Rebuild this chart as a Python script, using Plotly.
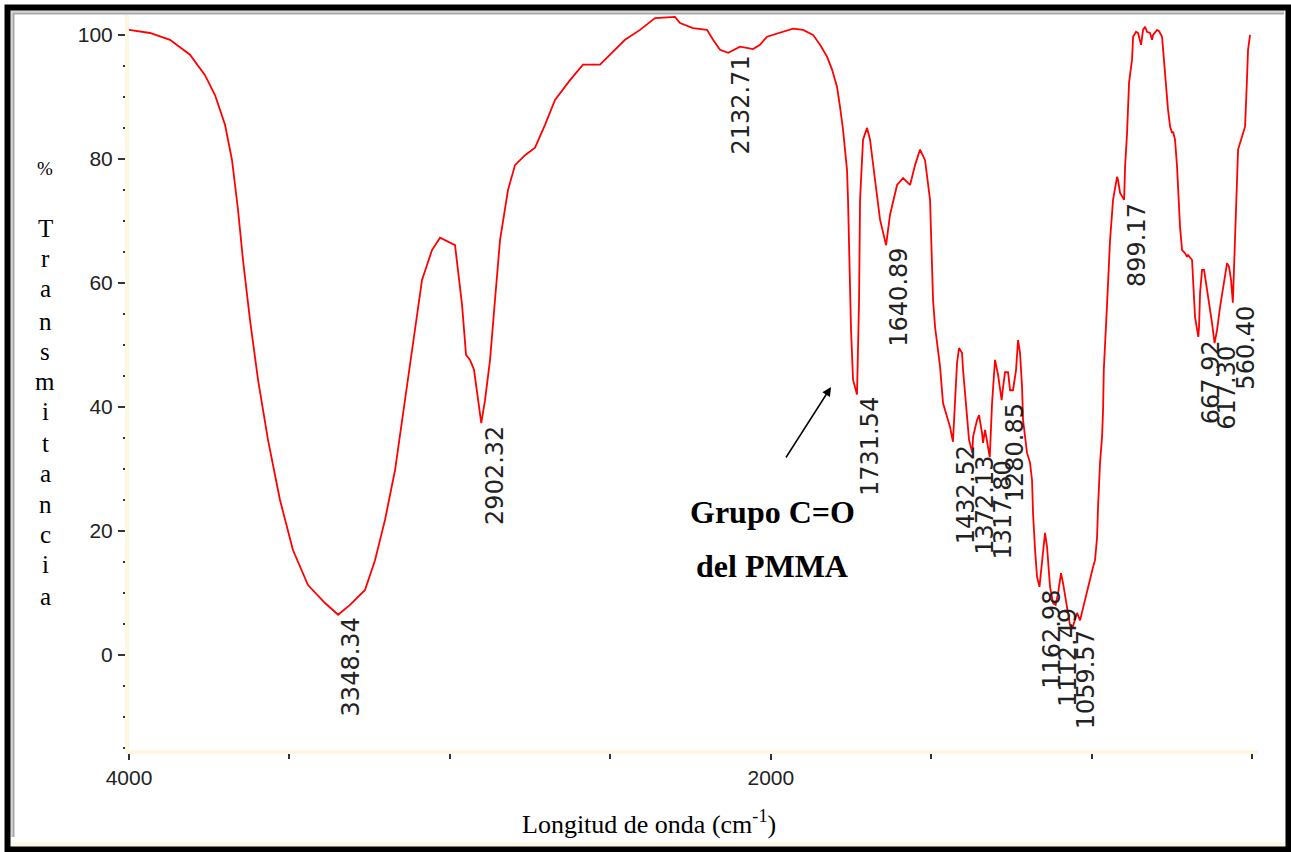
import numpy as np
import plotly.graph_objects as go

# ---------------- data ----------------
wavenumber = [
    4000.0, 3934.6, 3872.2, 3809.9, 3763.2, 3732.0, 3700.8, 3679.0, 3660.3, 3644.8,
    3622.9, 3598.0, 3566.9, 3529.5, 3488.9, 3442.2, 3389.2, 3348.34, 3311.3, 3264.6,
    3233.4, 3202.3, 3171.1, 3139.9, 3115.0, 3086.9, 3055.8, 3030.8, 2984.1, 2962.3,
    2949.8, 2937.4, 2924.9, 2902.32, 2890.6, 2875.0, 2859.5, 2843.9, 2819.0, 2797.2,
    2765.9, 2734.8, 2703.7, 2672.5, 2625.8, 2585.3, 2532.3, 2501.1, 2454.4, 2407.6,
    2360.9, 2298.6, 2283.0, 2242.5, 2198.8, 2180.1, 2158.3, 2132.71, 2096.0, 2055.5,
    2033.7, 2011.9, 1971.9, 1930.8, 1899.7, 1868.5, 1846.7, 1824.9, 1809.3, 1793.7,
    1784.4, 1775.0, 1762.6, 1759.5, 1750.1, 1743.9, 1731.54, 1725.1, 1722.0, 1712.7,
    1700.2, 1690.9, 1675.3, 1659.7, 1640.89, 1628.6, 1606.7, 1588.0, 1566.2, 1550.6,
    1535.1, 1519.5, 1503.9, 1494.6, 1488.3, 1472.7, 1463.4, 1450.9, 1441.6, 1432.52,
    1426.0, 1419.8, 1413.6, 1404.2, 1401.1, 1388.6, 1382.4, 1372.13, 1369.9, 1357.5,
    1351.2, 1341.9, 1338.8, 1332.5, 1326.3, 1317.80, 1310.7, 1304.5, 1301.4, 1292.0,
    1280.85, 1276.4, 1270.2, 1260.8, 1254.6, 1245.3, 1235.9, 1229.7, 1223.5, 1217.2,
    1214.1, 1201.7, 1192.3, 1186.1, 1183.0, 1176.7, 1170.5, 1162.98, 1154.9, 1145.6,
    1139.3, 1130.0, 1120.6, 1112.49, 1105.0, 1095.7, 1089.5, 1077.0, 1067.7, 1059.57,
    1045.8, 1036.5, 1027.1, 1014.7, 1005.3, 996.0, 989.8, 983.5, 980.4, 974.2,
    967.9, 964.8, 962.5, 958.6, 952.4, 943.0, 933.7, 921.2, 918.1, 911.8,
    899.17, 896.2, 890.0, 883.8, 874.5, 871.3, 862.0, 855.8, 846.4, 840.2,
    834.0, 827.7, 818.4, 812.2, 809.0, 796.6, 790.3, 781.0, 777.9, 771.6,
    765.4, 762.3, 756.0, 749.8, 746.7, 740.5, 734.2, 731.1, 724.9, 718.6,
    709.3, 703.1, 700.0, 687.5, 684.4, 678.2, 667.92, 665.7, 662.5, 656.3,
    650.1, 643.8, 637.6, 625.1, 617.30, 609.6, 600.3, 590.9, 578.4, 572.2,
    566.0, 560.40, 556.6, 553.5, 547.2, 544.1, 534.8, 528.6, 522.3, 516.1,
    513.0, 506.7,
]
transmittance = [
    100.8, 100.3, 99.2, 96.8, 93.5, 90.3, 85.5, 79.8, 71.8, 63.7,
    54.0, 44.4, 34.7, 25.0, 16.9, 11.3, 8.4, 6.5, 8.1, 10.5,
    15.3, 21.8, 29.8, 41.1, 50.8, 60.5, 65.3, 67.3, 66.1, 56.5,
    48.4, 47.6, 46.0, 37.4, 41.1, 47.6, 57.3, 66.9, 75.0, 79.0,
    80.6, 81.8, 85.5, 89.5, 92.7, 95.2, 95.2, 96.8, 99.2, 100.8,
    102.7, 102.9, 101.9, 101.1, 100.8, 99.2, 97.6, 97.1, 98.1, 97.7,
    98.4, 99.7, 100.3, 101.0, 100.8, 100.0, 98.4, 96.5, 94.4, 91.6,
    88.4, 84.7, 78.2, 73.4, 52.4, 44.4, 42.0, 57.3, 73.4, 83.1,
    85.0, 83.1, 76.6, 70.2, 66.1, 71.0, 75.8, 76.9, 75.8, 79.0,
    81.5, 79.8, 73.4, 57.3, 52.9, 46.5, 40.6, 38.4, 36.8, 34.4,
    40.0, 47.1, 49.5, 48.7, 46.0, 39.0, 34.7, 32.6, 35.2, 37.9,
    38.7, 35.8, 34.2, 36.3, 34.7, 31.9, 40.6, 44.4, 47.6, 45.2,
    41.1, 43.2, 45.6, 45.6, 42.7, 42.7, 46.0, 50.8, 48.7, 43.2,
    37.9, 32.6, 31.0, 28.2, 22.9, 16.9, 12.6, 11.0, 15.3, 19.7,
    17.4, 11.0, 8.4, 8.1, 10.0, 13.2, 11.6, 7.3, 4.8, 4.5,
    6.8, 5.6, 7.7, 10.0, 12.1, 14.2, 15.3, 19.0, 23.9, 31.0,
    35.2, 39.5, 46.0, 50.8, 56.5, 66.9, 73.4, 77.1, 76.6, 74.5,
    73.4, 78.7, 84.2, 92.3, 96.0, 99.7, 100.5, 100.3, 98.4, 100.8,
    101.3, 100.5, 100.3, 99.2, 100.0, 100.8, 100.6, 99.7, 97.6, 94.4,
    90.6, 87.9, 85.2, 84.2, 84.4, 83.1, 78.7, 75.0, 69.0, 65.3,
    64.8, 64.2, 64.5, 63.7, 60.0, 54.5, 51.3, 52.9, 58.4, 62.1,
    62.1, 60.0, 57.3, 53.5, 50.3, 52.4, 56.1, 58.9, 63.2, 62.6,
    60.5, 56.8, 62.6, 68.1, 75.0, 81.5, 83.1, 84.2, 85.2, 93.2,
    97.6, 100.0,
]

peak_wavenumbers = [3348.34, 2902.32, 2132.71, 1731.54, 1640.89, 1432.52, 1372.13,
                    1317.80, 1280.85, 1162.98, 1112.49, 1059.57, 899.17, 667.92,
                    617.30, 560.40]
peak_labels = ["3348.34", "2902.32", "2132.71", "1731.54", "1640.89", "1432.52",
               "1372.13", "1317.80", "1280.85", "1162.98", "1112.49", "1059.57",
               "899.17", "667.92", "617.30", "560.40"]

x_tickvals = [4000, 2000]
x_ticktext = ["4000", "2000"]
x_minor_step = 500
y_tickvals = [0, 20, 40, 60, 80, 100]
y_ticktext = ["0", "20", "40", "60", "80", "100"]
y_minor_step = 5

ylabel_letters = ["%", "T", "r", "a", "n", "s", "m", "i", "t", "a", "n", "c", "i", "a"]
xlabel_text = "Longitud de onda (cm<sup>-1</sup>)"
callout_lines = ["Grupo C=O", "del PMMA"]

# ---------------- layout geometry (pixels) ----------------
W, H = 1291, 852
L, R, T, B = 129, 33, 15, 102
PW, PH = W - L - R, H - T - B


def px(xp):
    return (xp - L) / PW


def py(yp):
    return (H - B - yp) / PH


fig = go.Figure()
fig.add_trace(go.Scatter(
    x=wavenumber, y=transmittance, mode="lines",
    line=dict(color="#ff0000", width=1.8), hoverinfo="skip", showlegend=False,
))

# peak labels
wn_arr = np.array(wavenumber)[::-1]
tr_arr = np.array(transmittance)[::-1]
peak_T = np.interp(peak_wavenumbers, wn_arr, tr_arr)
for wn, tv, lab in zip(peak_wavenumbers, peak_T, peak_labels):
    fig.add_annotation(
        x=wn, y=tv, xref="x", yref="y", text=lab, showarrow=False,
        textangle=-90, xanchor="center", yanchor="top", xshift=13, yshift=-2,
        font=dict(family="DejaVu Sans", size=24, color="#222222"),
        borderpad=0,
    )

# y label stacked letters
ylabel_y = [168, 228, 258, 288, 321, 351, 381, 411, 443, 474, 504, 534, 564, 596]
for ch, yy in zip(ylabel_letters, ylabel_y):
    fig.add_annotation(
        x=px(45), y=py(yy), xref="paper", yref="paper", text=ch, showarrow=False,
        xanchor="center", yanchor="middle",
        font=dict(family="Liberation Serif", size=25 if ch != "%" else 19, color="#000000"),
    )

# x label
fig.add_annotation(
    x=px(649), y=py(822), xref="paper", yref="paper", text=xlabel_text,
    showarrow=False, xanchor="center", yanchor="middle",
    font=dict(family="Liberation Serif", size=26, color="#000000"),
)

# callout text and arrow
fig.add_annotation(
    x=px(772), y=py(512), xref="paper", yref="paper", text="<b>" + callout_lines[0] + "</b>",
    showarrow=False, xanchor="center", yanchor="middle",
    font=dict(family="Liberation Serif", size=32, color="#000000"),
)
fig.add_annotation(
    x=px(772), y=py(566), xref="paper", yref="paper", text="<b>" + callout_lines[1] + "</b>",
    showarrow=False, xanchor="center", yanchor="middle",
    font=dict(family="Liberation Serif", size=32, color="#000000"),
)
fig.add_annotation(
    x=px(831), y=py(387), xref="paper", yref="paper", text="",
    showarrow=True, ax=-46, ay=72, axref="pixel", ayref="pixel",
    arrowhead=2, arrowsize=1.2, arrowwidth=1.5, arrowcolor="#000000",
)

# frame
shapes = [
    dict(type="line", x0=px(11), x1=px(1286), y0=py(845), y1=py(845),
         line=dict(color="#fdf8e6", width=6)),
    dict(type="line", x0=px(11.5), x1=px(11.5), y0=py(11), y1=py(837),
         line=dict(color="#d4d4d4", width=2)),
    dict(type="line", x0=px(13.5), x1=px(13.5), y0=py(13), y1=py(837),
         line=dict(color="#a8a8a8", width=2)),
    dict(type="line", x0=px(11), x1=px(1284), y0=py(11.5), y1=py(11.5),
         line=dict(color="#d4d4d4", width=2)),
    dict(type="line", x0=px(13), x1=px(1284), y0=py(13.5), y1=py(13.5),
         line=dict(color="#a8a8a8", width=2)),
    dict(type="rect", x0=px(7.5), x1=px(1288.5), y0=py(849.5), y1=py(7.5),
         line=dict(color="#000000", width=6)),
]
for s in shapes:
    s.update(xref="paper", yref="paper", layer="above")
    fig.add_shape(**s)

tick_font = dict(family="Liberation Sans Narrow, Arial Narrow, Liberation Sans", size=21, color="#222222")

fig.update_layout(
    width=W, height=H,
    margin=dict(l=L, r=R, t=T, b=B, pad=0),
    paper_bgcolor="#ffffff", plot_bgcolor="#ffffff",
    showlegend=False,
    xaxis=dict(
        range=[4000, 482], autorange=False,
        tickmode="array", tickvals=x_tickvals, ticktext=x_ticktext,
        ticks="outside", ticklen=6, tickwidth=2, tickcolor="#333333",
        minor=dict(tickmode="linear", tick0=500, dtick=x_minor_step, ticks="outside",
                   ticklen=5, tickwidth=2, tickcolor="#333333"),
        showline=True, linecolor="#fcf6e2", linewidth=4,
        showgrid=False, zeroline=False, tickfont=tick_font,
    ),
    yaxis=dict(
        range=[-15.3, 103.2], autorange=False,
        tickmode="array", tickvals=y_tickvals, ticktext=y_ticktext,
        ticks="outside", ticklen=7, tickwidth=2, tickcolor="#333333",
        minor=dict(tickmode="linear", tick0=0, dtick=y_minor_step, ticks="outside",
                   ticklen=2, tickwidth=2, tickcolor="#333333"),
        showline=True, linecolor="#fcf6e2", linewidth=4,
        showgrid=False, zeroline=False, tickfont=tick_font,
        ticklabelstandoff=1,
    ),
)

fig.write_html("out.html")
